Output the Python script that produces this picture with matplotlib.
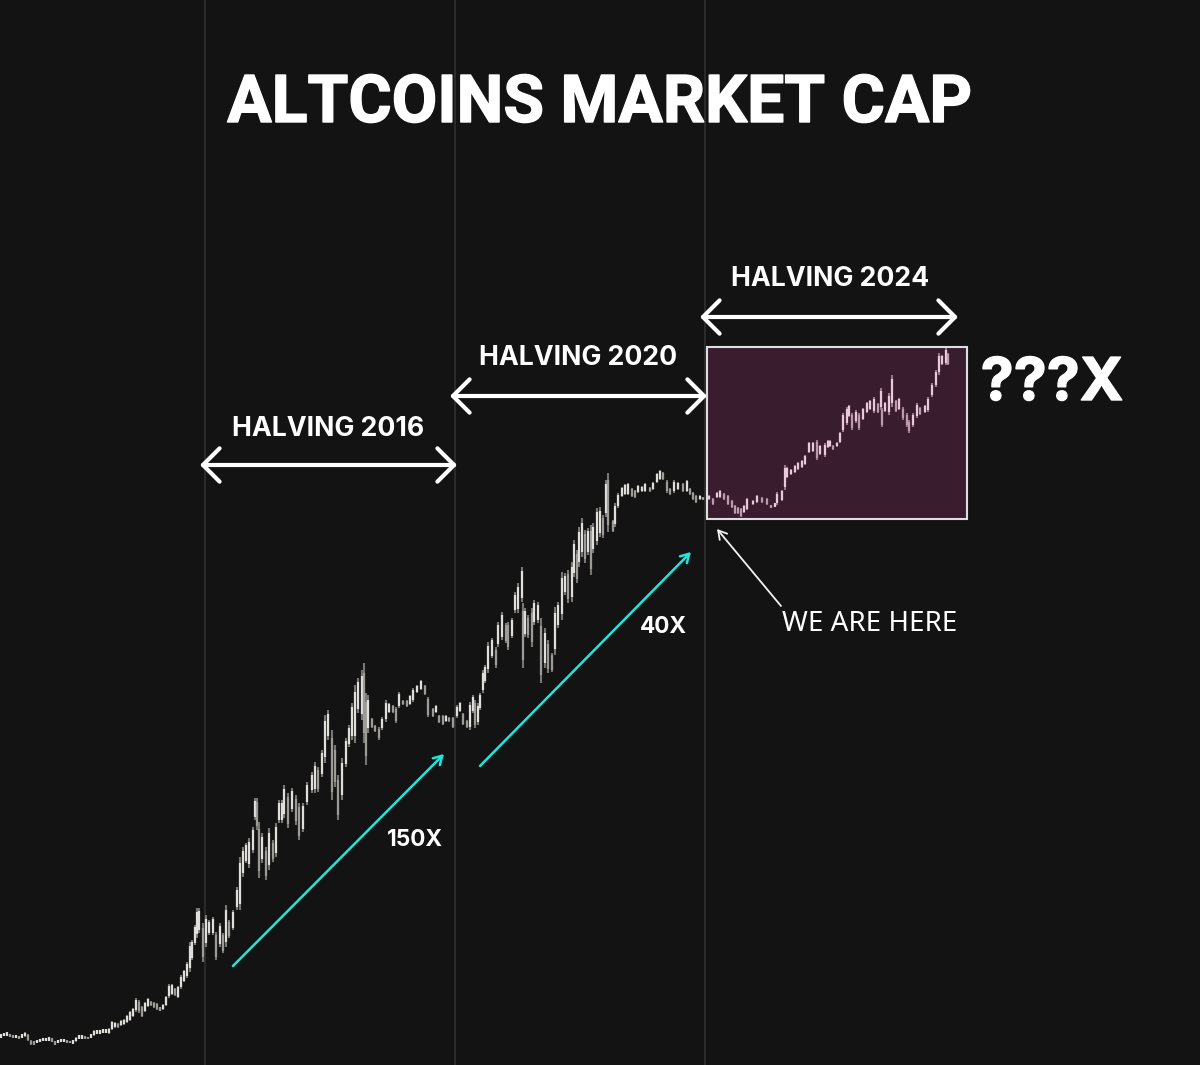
import numpy as np
import matplotlib
matplotlib.use("Agg")
import matplotlib.pyplot as plt
from matplotlib.patches import Rectangle
from matplotlib import patheffects as pe

# all values below are read off the picture, in picture rows/columns
# candles before the 2016 halving
era0_x = [1, 4, 7, 10, 13, 16, 19, 22, 25, 28, 31, 34, 37, 40, 43, 46, 49, 52, 55, 58, 61, 64, 67, 70, 73, 76, 79,
          82, 85, 88, 91, 94, 97, 100, 103, 106, 109, 112, 115, 118, 121, 124, 127, 130, 133, 136, 139, 142, 145,
          148, 151, 154, 157, 160, 163, 166, 169, 172, 175, 178, 181, 184, 187, 190, 192, 195, 197, 199, 203]
era0_top = [1034, 1033, 1032, 1034, 1035, 1035, 1036, 1034, 1032, 1034, 1040, 1041, 1040, 1039, 1038, 1038, 1037,
            1038, 1041, 1040, 1039, 1039, 1040, 1041, 1040, 1037, 1035, 1035, 1036, 1037, 1034, 1030, 1030, 1030,
            1029, 1029, 1028, 1021, 1022, 1023, 1020, 1019, 1015, 1011, 1008, 998, 1000, 1006, 1002, 998, 1001,
            1002, 1003, 1007, 1004, 996, 984, 984, 988, 986, 975, 970, 962, 942, 940, 925, 908, 908, 923]
era0_bottom = [1038, 1036, 1036, 1037, 1038, 1038, 1039, 1038, 1037, 1041, 1045, 1045, 1043, 1042, 1041, 1041, 1041,
               1042, 1045, 1043, 1042, 1042, 1043, 1043, 1044, 1042, 1039, 1039, 1039, 1039, 1038, 1036, 1034, 1034,
               1033, 1033, 1034, 1030, 1028, 1028, 1026, 1025, 1023, 1021, 1017, 1012, 1013, 1017, 1012, 1007, 1006,
               1008, 1010, 1011, 1010, 1006, 998, 995, 996, 998, 989, 982, 978, 972, 960, 945, 938, 933, 962]

# 2016 cycle
era1_x = [206, 209, 213, 216, 220, 223, 226, 229, 233, 237, 240, 243, 246, 249, 253, 255, 257, 259, 262, 266, 269,
          273, 276, 279, 282, 284, 288, 292, 296, 299, 303, 307, 312, 315, 318, 322, 325, 328, 332, 335, 338, 342,
          346, 349, 352, 355, 358, 362, 364, 366, 368, 372, 375, 379, 382, 386, 389, 393, 396, 399, 403, 407, 410,
          413, 417, 421, 425, 428, 433, 436, 439, 443, 446, 449, 453]
era1_top = [915, 920, 917, 932, 923, 933, 905, 920, 910, 887, 857, 847, 843, 838, 827, 798, 798, 822, 833, 847, 828,
            840, 823, 800, 800, 785, 793, 788, 795, 803, 803, 782, 772, 762, 767, 750, 715, 710, 730, 745, 775, 758,
            738, 725, 703, 685, 678, 670, 663, 693, 695, 718, 725, 727, 717, 700, 703, 705, 707, 692, 700, 700, 695,
            688, 685, 680, 685, 697, 708, 705, 715, 715, 715, 717, 717]
era1_bottom = [947, 935, 935, 960, 947, 953, 947, 938, 930, 910, 910, 877, 863, 868, 853, 820, 830, 878, 863, 880,
               870, 862, 857, 823, 823, 818, 828, 812, 825, 840, 832, 805, 793, 793, 792, 777, 763, 740, 800, 787,
               820, 800, 767, 747, 740, 743, 713, 720, 743, 765, 733, 728, 732, 740, 730, 722, 713, 713, 723, 708,
               705, 707, 705, 702, 693, 690, 695, 717, 717, 713, 723, 725, 722, 722, 728]

# 2020 cycle
era2_x = [457, 460, 463, 467, 470, 473, 475, 478, 480, 483, 485, 488, 492, 496, 498, 502, 506, 508, 512, 515, 518,
          522, 523, 525, 528, 532, 534, 538, 541, 545, 548, 552, 555, 558, 562, 565, 568, 572, 574, 577, 579, 582,
          585, 588, 591, 593, 597, 600, 603, 606, 608, 613, 615, 618, 622, 625, 628, 632, 635, 638, 642, 645, 650,
          653, 657, 660, 663, 667, 670, 674, 678, 683, 687, 690, 693, 696, 700, 703]
era2_top = [705, 702, 713, 720, 702, 695, 700, 703, 693, 670, 665, 642, 638, 647, 622, 612, 623, 622, 618, 592, 583,
            567, 603, 608, 615, 608, 600, 602, 618, 628, 640, 653, 607, 602, 572, 573, 570, 562, 540, 550, 527, 518,
            530, 528, 525, 523, 508, 507, 515, 480, 473, 520, 503, 493, 487, 484, 483, 488, 490, 485, 486, 483, 487,
            482, 473, 470, 472, 480, 488, 480, 482, 483, 480, 488, 492, 495, 495, 497]
era2_bottom = [718, 712, 725, 728, 730, 713, 728, 725, 710, 693, 683, 673, 658, 668, 647, 640, 643, 650, 638, 613,
               613, 602, 668, 637, 638, 647, 625, 623, 683, 668, 673, 672, 655, 628, 620, 595, 603, 602, 577, 583,
               567, 557, 563, 555, 575, 553, 545, 537, 538, 517, 532, 532, 527, 508, 497, 495, 495, 497, 498, 493,
               492, 492, 492, 490, 483, 480, 480, 493, 495, 493, 490, 492, 492, 495, 500, 503, 500, 500]

# inside the highlighted box
era3_x = [709, 713, 717, 720, 724, 728, 732, 735, 738, 741, 744, 747, 753, 757, 762, 767, 771, 775, 777, 782, 785,
          787, 791, 795, 798, 802, 805, 809, 813, 817, 820, 825, 828, 830, 833, 837, 840, 843, 847, 849, 852, 856,
          859, 863, 867, 870, 874, 878, 881, 882, 885, 889, 892, 896, 899, 903, 907, 909, 913, 917, 920, 925, 928,
          932, 936, 939, 942, 946, 948]
era3_top = [495, 498, 492, 490, 493, 495, 500, 505, 507, 508, 505, 498, 500, 495, 497, 498, 505, 503, 492, 490, 465,
            467, 469, 465, 462, 460, 455, 442, 442, 440, 445, 443, 440, 440, 445, 442, 432, 413, 407, 405, 413, 410,
            413, 408, 402, 400, 397, 403, 388, 408, 402, 393, 375, 400, 398, 407, 413, 420, 413, 403, 407, 405, 397,
            383, 370, 353, 355, 348, 353]
era3_bottom = [500, 505, 498, 498, 500, 505, 508, 514, 514, 517, 513, 510, 505, 503, 503, 505, 508, 507, 505, 501,
               490, 478, 475, 473, 470, 468, 465, 453, 452, 460, 455, 457, 448, 447, 450, 447, 443, 432, 425, 417,
               430, 423, 430, 420, 413, 410, 413, 413, 410, 427, 412, 415, 407, 412, 410, 420, 427, 433, 427, 418,
               415, 413, 412, 397, 387, 375, 365, 365, 365]

halving_columns = [204.5, 454.5, 704.5]
halving_names = ['HALVING 2016', 'HALVING 2020', 'HALVING 2024']
gain_names = ['150X', '40X']

BG = '#131314'
CYAN = '#22e4da'
WHITE = '#ffffff'

x = np.array(era0_x + era1_x + era2_x + era3_x)
top = np.array(era0_top + era1_top + era2_top + era3_top)
bottom = np.array(era0_bottom + era1_bottom + era2_bottom + era3_bottom)
mid = (top + bottom) / 2
rising = np.r_[True, mid[1:] <= mid[:-1]]
boxed = x > 707

fig = plt.figure(figsize=(12, 10.65), dpi=100, facecolor=BG)
ax = fig.add_axes([0, 0, 1, 1])
ax.set_facecolor(BG)
ax.set_xlim(0, 1200)
ax.set_ylim(1065, 0)
ax.axis('off')

for col in halving_columns:
    ax.axvline(col, color='#303031', lw=1.2, zorder=1)

# highlighted box sits under the candles
ax.add_patch(Rectangle((707, 347), 260, 172, facecolor='#3a1c2f', edgecolor='#dedede', lw=1.5, zorder=2))

# wick in a dim tone, body brighter on rising candles
wick_colors = np.where(boxed, '#96788a', '#787673')
body_colors = np.where(boxed, np.where(rising, '#e8c8d9', '#bd9bae'), np.where(rising, '#dfdedb', '#9d9b97'))
pad = (bottom - top) * 0.12
ax.vlines(x, top, bottom, colors=wick_colors, lw=1.5, zorder=3)
ax.vlines(x, top + pad, bottom - pad, colors=body_colors, lw=1.6, zorder=4)


def arrow(start, end, style, color, lw, head, head_w):
    ax.annotate('', xy=end, xytext=start, zorder=5,
                arrowprops=dict(arrowstyle=f'{style},head_length={head},head_width={head_w}',
                                color=color, lw=lw, shrinkA=0, shrinkB=0, mutation_scale=1, capstyle='round'))


def heavy(stroke):
    return [pe.withStroke(linewidth=stroke, foreground=WHITE)]


# halving spans
arrow((200, 465), (457, 465), '<->', WHITE, 3, 12, 12)
arrow((450, 396), (707, 396), '<->', WHITE, 3, 12, 12)
arrow((700, 317), (958, 317), '<->', WHITE, 3, 12, 12)

# gains per cycle
arrow((233, 966), (444, 754), '->', CYAN, 1.8, 6, 3.5)
arrow((480, 766), (691, 552), '->', CYAN, 1.8, 6, 3.5)

arrow((781, 606), (717, 529), '->', '#f2f2f2', 1.3, 6, 3.5)

ax.text(600, 122, 'ALTCOINS MARKET CAP', color=WHITE, fontsize=47.6, family='Roboto', weight='bold',
        ha='center', va='baseline', zorder=6, path_effects=heavy(1))
for name, cx, base in zip(halving_names, [328.5, 578.5, 830], [436, 365, 286]):
    ax.text(cx, base, name, color=WHITE, fontsize=19.2, family='Inter', weight='bold', ha='center', va='baseline')
for name, cx, base in zip(gain_names, [415, 663], [846, 633]):
    ax.text(cx, base, name, color=WHITE, fontsize=16.3, family='Inter', weight='bold', ha='center', va='baseline')
ax.text(1052, 400, '???X', color=WHITE, fontsize=42.5, family='Inter', weight='bold', ha='center', va='baseline',
        path_effects=heavy(1))
ax.text(870, 631, 'WE ARE HERE', color=WHITE, fontsize=20, family='Noto Sans', ha='center', va='baseline')

fig.savefig('out.png', dpi=100, facecolor=BG)
